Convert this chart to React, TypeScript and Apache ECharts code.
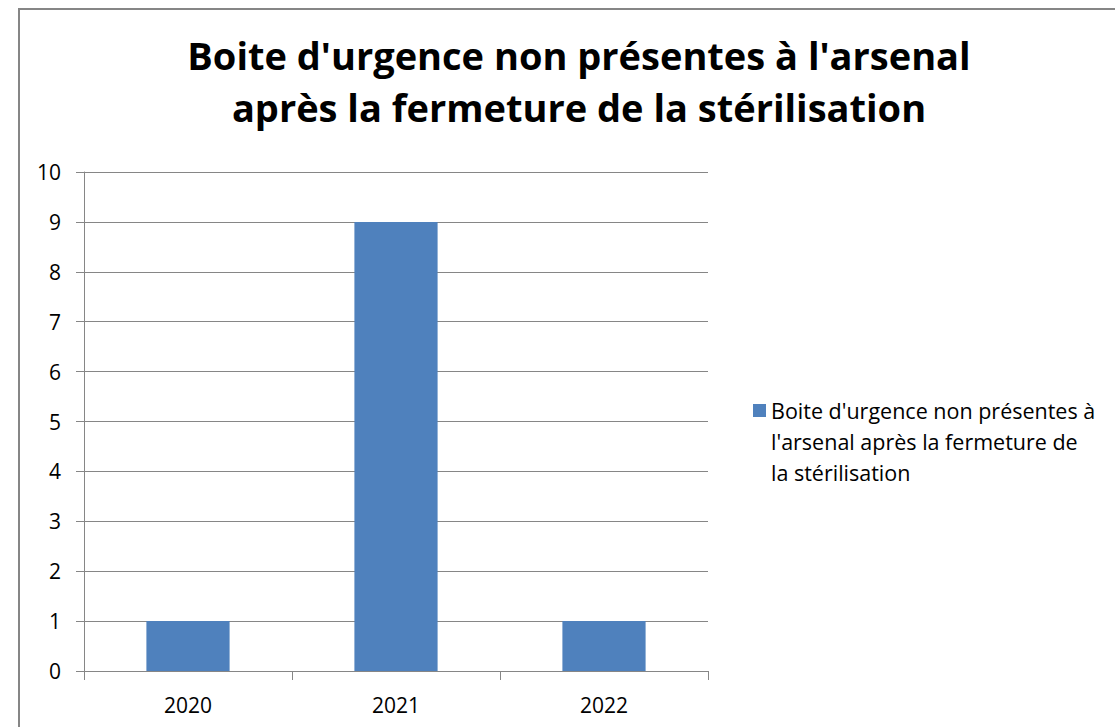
import React, { useEffect, useRef } from "react";
import * as echarts from "echarts";

const categories = ["2020", "2021", "2022"];
const seriesName = "Boite d'urgence non présentes à l'arsenal après la fermeture de la stérilisation";
const values = [1, 9, 1];
const titleLines = ["Boite d'urgence non présentes à l'arsenal", "après la fermeture de la stérilisation"];
const legendLines = ["Boite d'urgence non présentes à", "l'arsenal après la fermeture de", "la stérilisation"];

export default function App() {
  const ref = useRef<HTMLDivElement>(null);
  useEffect(() => {
    document.body.style.margin = "0";
    const chart = echarts.init(ref.current!, null, { renderer: "svg" });
    const font = "'Open Sans', Lato, sans-serif";
    chart.setOption({
      animation: false,
      backgroundColor: "#ffffff",
      textStyle: { fontFamily: font },
      title: {
        text: titleLines.join("\n"),
        left: 574,
        top: 24,
        textAlign: "center",
        textStyle: { fontFamily: font, fontSize: 38, fontWeight: "bold", color: "#000", lineHeight: 52 },
      },
      graphic: [
        {
          type: "rect",
          shape: { x: 19, y: 9, width: 1200, height: 800 },
          style: { fill: "none", stroke: "#868686", lineWidth: 2 },
          silent: true,
          z: -1,
        },
      ],
      legend: {
        left: 748,
        top: 390,
        orient: "vertical",
        icon: "path://M0,0h13v13h-13z M0,75h0.01v0h-0.01z",
        itemWidth: 13,
        itemHeight: 75,
        itemGap: 8,
        formatter: () => legendLines.join("\n"),
        textStyle: {
          fontFamily: font,
          fontSize: 21.5,
          color: "#000",
          lineHeight: 31,
        },
      },
      grid: { left: 84, right: 407, top: 172, bottom: 56, containLabel: false },
      xAxis: {
        type: "category",
        data: categories,
        axisLine: { lineStyle: { color: "#868686", width: 1 } },
        axisTick: { show: true, length: 9, alignWithLabel: false, lineStyle: { color: "#868686" } },
        axisLabel: { fontFamily: font, fontSize: 21, color: "#000", margin: 23 },
      },
      yAxis: {
        type: "value",
        min: 0,
        max: 10,
        interval: 1,
        axisLine: { show: true, lineStyle: { color: "#868686", width: 1 } },
        axisTick: { show: true, length: 8, lineStyle: { color: "#868686" } },
        splitLine: { lineStyle: { color: "#868686", width: 1 } },
        axisLabel: { fontFamily: font, fontSize: 21, color: "#000", margin: 23 },
      },
      series: [
        {
          name: seriesName,
          type: "bar",
          data: values,
          barWidth: "40%",
          itemStyle: { color: "#4F81BD" },
        },
      ],
    });
    return () => chart.dispose();
  }, []);
  return <div ref={ref} style={{ width: 1115, height: 727 }} />;
}
